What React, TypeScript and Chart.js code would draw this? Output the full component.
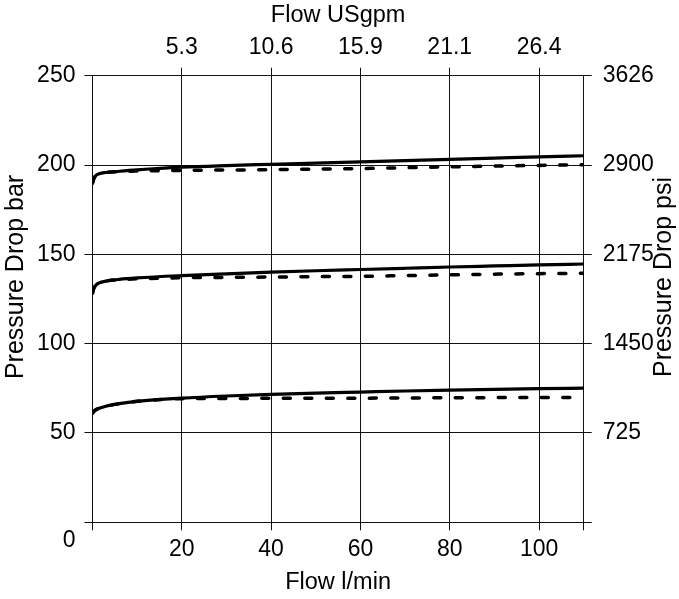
import { useEffect, useRef } from 'react';
import { Chart, registerables } from 'chart.js';

Chart.register(...registerables);

// ---- data (flow in l/min, pressure drop in bar) ----
const flowLpm = [0, 0.3, 0.7, 1.5, 3, 6, 10, 20, 30, 40, 50, 60, 70, 80, 90, 100, 110];

const highSolid = [189.8, 192.3, 194.0, 195.1, 195.8, 196.5, 197.3, 198.8, 199.7, 200.4, 201.1, 201.8, 202.5, 203.2, 203.9, 204.6, 205.2];
const highDashed = [189.8, 192.3, 194.0, 195.1, 195.8, 196.3, 196.6, 197.0, 197.2, 197.4, 197.7, 198.0, 198.5, 199.0, 199.4, 199.8, 200.1];

const midSolid = [128.2, 130.9, 132.6, 134.0, 135.0, 136.0, 136.8, 138.1, 139.1, 140.0, 140.8, 141.5, 142.2, 142.9, 143.5, 144.1, 144.6];
const midDashed = [128.2, 130.9, 132.6, 134.0, 135.0, 135.8, 136.3, 136.9, 137.1, 137.3, 137.5, 137.7, 138.1, 138.5, 138.9, 139.2, 139.4];

const lowSolid = [61.0, 62.0, 62.9, 63.8, 65.0, 66.4, 67.7, 69.5, 70.7, 71.6, 72.3, 72.9, 73.5, 74.0, 74.4, 74.8, 75.1];
const lowDashed = [61.0, 62.0, 62.9, 63.8, 65.0, 66.4, 67.7, 69.2, 69.3, 69.4, 69.5, 69.5, 69.6, 69.7, 69.8, 69.8, 69.9];

// ---- axes ----
const xTickValues = [0, 20, 40, 60, 80, 100, 110];
const xTickLabels = ['', '20', '40', '60', '80', '100', ''];
const topTickValues = [20, 40, 60, 80, 100];
const topTickLabels = ['5.3', '10.6', '15.9', '21.1', '26.4'];
const yTickValues = [0, 50, 100, 150, 200, 250];
const yTickLabels = ['0', '50', '100', '150', '200', '250'];
const psiTickLabels = ['', '725', '1450', '2175', '2900', '3626'];

const xTitle = 'Flow l/min';
const topTitle = 'Flow USgpm';
const yTitle = 'Pressure Drop bar';
const y2Title = 'Pressure Drop psi';

const FONT = 'Arial, "Liberation Sans", sans-serif';
const FS = 23;
const VFS = 25;
const GRID = '#111';

const toPoints = (ys: number[]) => flowLpm.map((x, i) => ({ x, y: ys[i] }));

export default function App() {
  const ref = useRef<HTMLCanvasElement | null>(null);

  useEffect(() => {
    if (!ref.current) return;
    Chart.defaults.font.family = FONT;
    Chart.defaults.font.size = FS;
    Chart.defaults.color = '#000';

    const solid = (data: number[]) => ({
      data: toPoints(data),
      borderColor: '#000',
      borderWidth: 3.2,
      pointRadius: 0,
      cubicInterpolationMode: 'monotone' as const,
      fill: false,
      xAxisID: 'x',
      yAxisID: 'y',
    });
    const dashed = (data: number[]) => ({
      ...solid(data),
      borderWidth: 3.5,
      borderDash: [7, 14.5],
      borderCapStyle: 'round' as const,
    });

    // vertical axis titles, both reading bottom-to-top
    const sideTitles = {
      id: 'sideTitles',
      afterDraw(chart: any) {
        const { ctx, chartArea, scales } = chart;
        const y = (chartArea.top + chartArea.bottom) / 2 - 22;
        const draw = (text: string, x: number) => {
          ctx.save();
          ctx.translate(x, y);
          ctx.rotate(-Math.PI / 2);
          ctx.font = `${VFS}px ${FONT}`;
          ctx.fillStyle = '#000';
          ctx.textAlign = 'center';
          ctx.textBaseline = 'middle';
          ctx.fillText(text, 0, 0);
          ctx.restore();
        };
        draw(yTitle, scales.y.left - 11.5);
        draw(y2Title, scales.y2.right - 0.5);
      },
    };

    const chart = new Chart(ref.current, {
      type: 'line',
      data: {
        datasets: [
          dashed(highDashed),
          solid(highSolid),
          dashed(midDashed),
          solid(midSolid),
          dashed(lowDashed),
          solid(lowSolid),
        ] as any,
      },
      plugins: [sideTitles],
      options: {
        animation: false,
        responsive: true,
        maintainAspectRatio: false,
        devicePixelRatio: 1,
        layout: { padding: { left: 28.1, top: 0, bottom: 0, right: 14.1 } },
        plugins: { legend: { display: false }, tooltip: { enabled: false } },
        scales: {
          x: {
            type: 'linear',
            position: 'bottom',
            min: 0,
            max: 110,
            afterBuildTicks: (s: any) => {
              s.ticks = xTickValues.map((v) => ({ value: v }));
            },
            ticks: {
              autoSkip: false,
              maxRotation: 0,
              padding: 6,
              color: '#000',
              font: { family: FONT, size: FS },
              callback: (_v: any, i: number) => xTickLabels[i],
            },
            grid: { color: GRID, lineWidth: 1, tickLength: 8, drawTicks: true },
            border: { color: GRID, width: 1 },
            title: {
              display: true,
              text: xTitle,
              color: '#000',
              font: { family: FONT, size: 23.5, lineHeight: 1 },
              padding: { top: 0.6, bottom: 5 },
            },
          },
          x2: {
            type: 'linear',
            position: 'top',
            min: 0,
            max: 110,
            afterBuildTicks: (s: any) => {
              s.ticks = topTickValues.map((v) => ({ value: v }));
            },
            ticks: {
              autoSkip: false,
              maxRotation: 0,
              padding: 6,
              color: '#000',
              font: { family: FONT, size: FS },
              callback: (_v: any, i: number) => topTickLabels[i],
            },
            grid: { color: GRID, lineWidth: 1, tickLength: 8, drawOnChartArea: false },
            border: { color: GRID, width: 1 },
            title: {
              display: true,
              text: topTitle,
              color: '#000',
              font: { family: FONT, size: 23.5, lineHeight: 1 },
              padding: { top: 4.0, bottom: 0.6 },
            },
          },
          y: {
            type: 'linear',
            position: 'left',
            min: 0,
            max: 250,
            afterBuildTicks: (s: any) => {
              s.ticks = yTickValues.map((v) => ({ value: v }));
            },
            ticks: {
              padding: 9,
              color: '#000',
              font: (c: any) =>
                c.tick && c.tick.value === 0
                  ? { family: FONT, size: FS, lineHeight: 36 / FS }
                  : { family: FONT, size: FS },
              callback: (_v: any, i: number) => (i === 0 ? ['', yTickLabels[0]] : yTickLabels[i]),
            },
            grid: { color: GRID, lineWidth: 1, tickLength: 8 },
            border: { color: GRID, width: 1 },
          },
          y2: {
            type: 'linear',
            position: 'right',
            min: 0,
            max: 250,
            afterBuildTicks: (s: any) => {
              s.ticks = yTickValues.map((v) => ({ value: v }));
            },
            ticks: {
              padding: 11,
              color: '#000',
              font: { family: FONT, size: FS },
              callback: (_v: any, i: number) => psiTickLabels[i],
            },
            grid: { color: GRID, lineWidth: 1, tickLength: 8, drawOnChartArea: false },
            border: { color: GRID, width: 1 },
          },
        },
      } as any,
    });
    return () => chart.destroy();
  }, []);

  return (
    <div style={{ position: 'absolute', left: 0, top: 0, width: 679, height: 599 }}>
      <canvas ref={ref} />
    </div>
  );
}
